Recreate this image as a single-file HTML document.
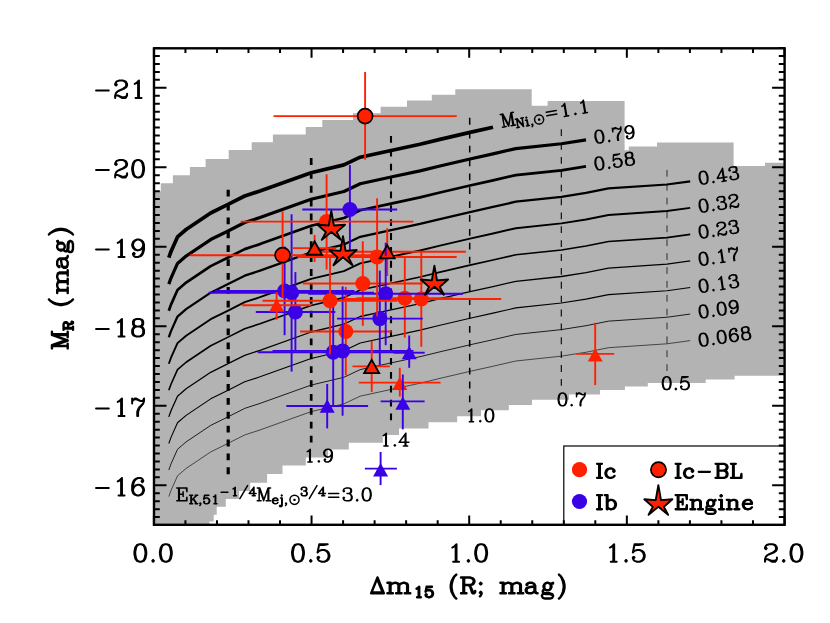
<!DOCTYPE html>
<html><head><meta charset="utf-8"><title>chart</title>
<style>html,body{margin:0;padding:0;background:#fff;font-family:"Liberation Sans",sans-serif}svg{display:block}</style>
</head><body>
<svg width="830" height="623" viewBox="0 0 830 623">
<rect width="830" height="623" fill="#fff"/>
<polygon points="154,525 154,191.2 155,191.2 160.8,191.2 160.8,183.3 172.9,183.3 172.9,175.2 189.9,175.2 189.9,167 205.6,167 205.6,158.9 228.7,158.9 228.7,150.1 251.7,150.1 251.7,142.2 272.9,142.2 272.9,134.6 305.7,134.6 305.7,126.9 322.3,126.9 322.3,120 353,120 353,113.2 380.6,113.2 380.6,106.8 407,106.8 407,100.5 431.8,100.5 431.8,94.8 455.3,94.8 455.3,89.2 531.7,89.2 531.7,105.8 547.6,105.8 547.6,100.9 624.6,100.9 624.6,150.2 628.8,150.2 628.8,146.5 657,146.5 657,142.5 733.6,142.5 733.6,165.9 765,165.9 765,162.8 784.6,162.8 784.6,375.8 734.6,375.8 734.6,379.5 705.7,379.5 705.7,383 647.8,383 647.8,386.6 624.9,386.6 624.9,390 600,390 600,394.6 569,394.6 569,399.8 532,399.8 532,405 508.8,405 508.8,410.3 481,410.3 481,416.2 457.2,416.2 457.2,422.2 428.5,422.2 428.5,428.6 399,428.6 399,435.1 382.8,435.1 382.8,442.8 348.8,442.8 348.8,449.6 328,449.6 328,457.6 305.8,457.6 305.8,465.6 282.5,465.6 282.5,474 267.1,474 267.1,482.7 250.2,482.7 250.2,491 239.1,491 239.1,498.9 225.8,498.9 225.8,506.8 216.7,506.8 216.7,514.7 213.7,514.7 213.7,521.6 209.4,521.6 209.4,525 154,525" fill="#b3b3b3"/>
<polyline points="168.8,257.6 171,251.5 177.5,236.9 186.1,229.5 210.7,213 228.1,204.4 244.7,196 260,191 311.1,172.7 343.9,164.9 360.2,157.2 391.1,150.5 420,144.3 440,139.4 470,132.4 493,127.3" fill="none" stroke="#000" stroke-width="3.7" stroke-linejoin="round"/>
<polyline points="168.8,284.15 171,278.05 177.5,263.45 186.1,256.05 210.7,239.55 228.1,230.95 244.7,222.55 260,217.55 311.1,199.25 343.9,191.45 360.2,183.75 391.1,177.05 420,170.85 440,165.95 470,158.95 493,153.85 515.8,148.6 561.4,143.75 586,139.85" fill="none" stroke="#000" stroke-width="3.2" stroke-linejoin="round"/>
<polyline points="168.8,310.7 171,304.6 177.5,290 186.1,282.6 210.7,266.1 228.1,257.5 244.7,249.1 260,244.1 311.1,225.8 343.9,218 360.2,210.3 391.1,203.6 420,197.4 440,192.5 470,185.5 493,180.4 515.8,175.15 561.4,170.3 586,166.4" fill="none" stroke="#000" stroke-width="2.7" stroke-linejoin="round"/>
<polyline points="168.8,337.25 171,331.15 177.5,316.55 186.1,309.15 210.7,292.65 228.1,284.05 244.7,275.65 260,270.65 311.1,252.35 343.9,244.55 360.2,236.85 391.1,230.15 420,223.95 440,219.05 470,212.05 493,206.95 515.8,201.7 561.4,196.85 586,192.95 608.5,188.4 666.9,184.5 690.2,181.3" fill="none" stroke="#000" stroke-width="2.25" stroke-linejoin="round"/>
<polyline points="168.8,363.8 171,357.7 177.5,343.1 186.1,335.7 210.7,319.2 228.1,310.6 244.7,302.2 260,297.2 311.1,278.9 343.9,271.1 360.2,263.4 391.1,256.7 420,250.5 440,245.6 470,238.6 493,233.5 515.8,228.25 561.4,223.4 586,219.5 608.5,214.95 666.9,211.05 690.2,207.85" fill="none" stroke="#000" stroke-width="1.9" stroke-linejoin="round"/>
<polyline points="168.8,390.35 171,384.25 177.5,369.65 186.1,362.25 210.7,345.75 228.1,337.15 244.7,328.75 260,323.75 311.1,305.45 343.9,297.65 360.2,289.95 391.1,283.25 420,277.05 440,272.15 470,265.15 493,260.05 515.8,254.8 561.4,249.95 586,246.05 608.5,241.5 666.9,237.6 690.2,234.4" fill="none" stroke="#000" stroke-width="1.6" stroke-linejoin="round"/>
<polyline points="168.8,416.9 171,410.8 177.5,396.2 186.1,388.8 210.7,372.3 228.1,363.7 244.7,355.3 260,350.3 311.1,332 343.9,324.2 360.2,316.5 391.1,309.8 420,303.6 440,298.7 470,291.7 493,286.6 515.8,281.35 561.4,276.5 586,272.6 608.5,268.05 666.9,264.15 690.2,260.95" fill="none" stroke="#000" stroke-width="1.3" stroke-linejoin="round"/>
<polyline points="168.8,443.45 171,437.35 177.5,422.75 186.1,415.35 210.7,398.85 228.1,390.25 244.7,381.85 260,376.85 311.1,358.55 343.9,350.75 360.2,343.05 391.1,336.35 420,330.15 440,325.25 470,318.25 493,313.15 515.8,307.9 561.4,303.05 586,299.15 608.5,294.6 666.9,290.7 690.2,287.5" fill="none" stroke="#000" stroke-width="1.1" stroke-linejoin="round"/>
<polyline points="168.8,470 171,463.9 177.5,449.3 186.1,441.9 210.7,425.4 228.1,416.8 244.7,408.4 260,403.4 311.1,385.1 343.9,377.3 360.2,369.6 391.1,362.9 420,356.7 440,351.8 470,344.8 493,339.7 515.8,334.45 561.4,329.6 586,325.7 608.5,321.15 666.9,317.25 690.2,314.05" fill="none" stroke="#000" stroke-width="0.85" stroke-linejoin="round"/>
<polyline points="168.8,496.55 171,490.45 177.5,475.85 186.1,468.45 210.7,451.95 228.1,443.35 244.7,434.95 260,429.95 311.1,411.65 343.9,403.85 360.2,396.15 391.1,389.45 420,383.25 440,378.35 470,371.35 493,366.25 515.8,361 561.4,356.15 586,352.25 608.5,347.7 666.9,343.8 690.2,340.6" fill="none" stroke="#000" stroke-width="0.62" stroke-linejoin="round"/>
<line x1="228.2" y1="189.75" x2="228.2" y2="474.3" stroke="#000" stroke-width="3.2" stroke-dasharray="6.8 7.08"/>
<line x1="311.2" y1="158.08" x2="311.2" y2="442.63" stroke="#000" stroke-width="2.7" stroke-dasharray="6.8 7.08"/>
<line x1="391" y1="135.92" x2="391" y2="420.47" stroke="#000" stroke-width="2.1" stroke-dasharray="6.8 7.08"/>
<line x1="469.7" y1="117.87" x2="469.7" y2="402.42" stroke="#000" stroke-width="1.5" stroke-dasharray="6.8 7.08"/>
<line x1="561.3" y1="129.16" x2="561.3" y2="387.16" stroke="#000" stroke-width="1.1" stroke-dasharray="6.8 7.08"/>
<line x1="667" y1="169.89" x2="667" y2="374.79" stroke="#000" stroke-width="0.75" stroke-dasharray="6.8 7.08"/>
<path transform="translate(303.6 462)" d="M3.66 -10.37L4.88 -10.98L6.71 -12.81L6.71 0M6.1 -12.2L6.1 0M4.27 0L8.54 0M15.25 -1.22L14.64 -0.61L15.25 0L15.86 -0.61L15.25 -1.22M28.06 -8.54L27.45 -6.71L26.23 -5.49L24.4 -4.88L23.79 -4.88L21.96 -5.49L20.74 -6.71L20.13 -8.54L20.13 -9.15L20.74 -10.98L21.96 -12.2L23.79 -12.81L25.01 -12.81L26.84 -12.2L28.06 -10.98L28.67 -9.15L28.67 -5.49L28.06 -3.05L27.45 -1.83L26.23 -0.61L24.4 0L22.57 0L21.35 -0.61L20.74 -1.83L20.74 -2.44L21.35 -3.05L21.96 -2.44L21.35 -1.83M23.79 -4.88L22.57 -5.49L21.35 -6.71L20.74 -8.54L20.74 -9.15L21.35 -10.98L22.57 -12.2L23.79 -12.81M25.01 -12.81L26.23 -12.2L27.45 -10.98L28.06 -9.15L28.06 -5.49L27.45 -3.05L26.84 -1.83L25.62 -0.61L24.4 0" fill="none" stroke="#000" stroke-width="1.5" stroke-linecap="round" stroke-linejoin="round"/>
<path transform="translate(379.6 446)" d="M3.66 -10.37L4.88 -10.98L6.71 -12.81L6.71 0M6.1 -12.2L6.1 0M4.27 0L8.54 0M15.25 -1.22L14.64 -0.61L15.25 0L15.86 -0.61L15.25 -1.22M25.62 -11.59L25.62 0M26.23 -12.81L26.23 0M26.23 -12.81L19.52 -3.66L29.28 -3.66M23.79 0L28.06 0" fill="none" stroke="#000" stroke-width="1.5" stroke-linecap="round" stroke-linejoin="round"/>
<path transform="translate(465 421.8)" d="M3.66 -10.37L4.88 -10.98L6.71 -12.81L6.71 0M6.1 -12.2L6.1 0M4.27 0L8.54 0M15.25 -1.22L14.64 -0.61L15.25 0L15.86 -0.61L15.25 -1.22M23.79 -12.81L21.96 -12.2L20.74 -10.37L20.13 -7.32L20.13 -5.49L20.74 -2.44L21.96 -0.61L23.79 0L25.01 0L26.84 -0.61L28.06 -2.44L28.67 -5.49L28.67 -7.32L28.06 -10.37L26.84 -12.2L25.01 -12.81L23.79 -12.81M23.79 -12.81L22.57 -12.2L21.96 -11.59L21.35 -10.37L20.74 -7.32L20.74 -5.49L21.35 -2.44L21.96 -1.22L22.57 -0.61L23.79 0M25.01 0L26.23 -0.61L26.84 -1.22L27.45 -2.44L28.06 -5.49L28.06 -7.32L27.45 -10.37L26.84 -11.59L26.23 -12.2L25.01 -12.81" fill="none" stroke="#000" stroke-width="1.5" stroke-linecap="round" stroke-linejoin="round"/>
<path transform="translate(556.4 405.8)" d="M5.49 -12.81L3.66 -12.2L2.44 -10.37L1.83 -7.32L1.83 -5.49L2.44 -2.44L3.66 -0.61L5.49 0L6.71 0L8.54 -0.61L9.76 -2.44L10.37 -5.49L10.37 -7.32L9.76 -10.37L8.54 -12.2L6.71 -12.81L5.49 -12.81M5.49 -12.81L4.27 -12.2L3.66 -11.59L3.05 -10.37L2.44 -7.32L2.44 -5.49L3.05 -2.44L3.66 -1.22L4.27 -0.61L5.49 0M6.71 0L7.93 -0.61L8.54 -1.22L9.15 -2.44L9.76 -5.49L9.76 -7.32L9.15 -10.37L8.54 -11.59L7.93 -12.2L6.71 -12.81M15.25 -1.22L14.64 -0.61L15.25 0L15.86 -0.61L15.25 -1.22M20.13 -12.81L20.13 -9.15M20.13 -10.37L20.74 -11.59L21.96 -12.81L23.18 -12.81L26.23 -10.98L27.45 -10.98L28.06 -11.59L28.67 -12.81M20.74 -11.59L21.96 -12.2L23.18 -12.2L26.23 -10.98M28.67 -12.81L28.67 -10.98L28.06 -9.15L25.62 -6.1L25.01 -4.88L24.4 -3.05L24.4 0M28.06 -9.15L25.01 -6.1L24.4 -4.88L23.79 -3.05L23.79 0" fill="none" stroke="#000" stroke-width="1.5" stroke-linecap="round" stroke-linejoin="round"/>
<path transform="translate(660.6 389.6)" d="M5.49 -12.81L3.66 -12.2L2.44 -10.37L1.83 -7.32L1.83 -5.49L2.44 -2.44L3.66 -0.61L5.49 0L6.71 0L8.54 -0.61L9.76 -2.44L10.37 -5.49L10.37 -7.32L9.76 -10.37L8.54 -12.2L6.71 -12.81L5.49 -12.81M5.49 -12.81L4.27 -12.2L3.66 -11.59L3.05 -10.37L2.44 -7.32L2.44 -5.49L3.05 -2.44L3.66 -1.22L4.27 -0.61L5.49 0M6.71 0L7.93 -0.61L8.54 -1.22L9.15 -2.44L9.76 -5.49L9.76 -7.32L9.15 -10.37L8.54 -11.59L7.93 -12.2L6.71 -12.81M15.25 -1.22L14.64 -0.61L15.25 0L15.86 -0.61L15.25 -1.22M21.35 -12.81L20.13 -6.71M20.13 -6.71L21.35 -7.93L23.18 -8.54L25.01 -8.54L26.84 -7.93L28.06 -6.71L28.67 -4.88L28.67 -3.66L28.06 -1.83L26.84 -0.61L25.01 0L23.18 0L21.35 -0.61L20.74 -1.22L20.13 -2.44L20.13 -3.05L20.74 -3.66L21.35 -3.05L20.74 -2.44M25.01 -8.54L26.23 -7.93L27.45 -6.71L28.06 -4.88L28.06 -3.66L27.45 -1.83L26.23 -0.61L25.01 0M21.35 -12.81L27.45 -12.81M21.35 -12.2L24.4 -12.2L27.45 -12.81" fill="none" stroke="#000" stroke-width="1.5" stroke-linecap="round" stroke-linejoin="round"/>
<path transform="translate(594.3 143.85) rotate(-8.5)" d="M5.49 -12.81L3.66 -12.2L2.44 -10.37L1.83 -7.32L1.83 -5.49L2.44 -2.44L3.66 -0.61L5.49 0L6.71 0L8.54 -0.61L9.76 -2.44L10.37 -5.49L10.37 -7.32L9.76 -10.37L8.54 -12.2L6.71 -12.81L5.49 -12.81M5.49 -12.81L4.27 -12.2L3.66 -11.59L3.05 -10.37L2.44 -7.32L2.44 -5.49L3.05 -2.44L3.66 -1.22L4.27 -0.61L5.49 0M6.71 0L7.93 -0.61L8.54 -1.22L9.15 -2.44L9.76 -5.49L9.76 -7.32L9.15 -10.37L8.54 -11.59L7.93 -12.2L6.71 -12.81M15.25 -1.22L14.64 -0.61L15.25 0L15.86 -0.61L15.25 -1.22M20.13 -12.81L20.13 -9.15M20.13 -10.37L20.74 -11.59L21.96 -12.81L23.18 -12.81L26.23 -10.98L27.45 -10.98L28.06 -11.59L28.67 -12.81M20.74 -11.59L21.96 -12.2L23.18 -12.2L26.23 -10.98M28.67 -12.81L28.67 -10.98L28.06 -9.15L25.62 -6.1L25.01 -4.88L24.4 -3.05L24.4 0M28.06 -9.15L25.01 -6.1L24.4 -4.88L23.79 -3.05L23.79 0M40.26 -8.54L39.65 -6.71L38.43 -5.49L36.6 -4.88L35.99 -4.88L34.16 -5.49L32.94 -6.71L32.33 -8.54L32.33 -9.15L32.94 -10.98L34.16 -12.2L35.99 -12.81L37.21 -12.81L39.04 -12.2L40.26 -10.98L40.87 -9.15L40.87 -5.49L40.26 -3.05L39.65 -1.83L38.43 -0.61L36.6 0L34.77 0L33.55 -0.61L32.94 -1.83L32.94 -2.44L33.55 -3.05L34.16 -2.44L33.55 -1.83M35.99 -4.88L34.77 -5.49L33.55 -6.71L32.94 -8.54L32.94 -9.15L33.55 -10.98L34.77 -12.2L35.99 -12.81M37.21 -12.81L38.43 -12.2L39.65 -10.98L40.26 -9.15L40.26 -5.49L39.65 -3.05L39.04 -1.83L37.82 -0.61L36.6 0" fill="none" stroke="#000" stroke-width="1.5" stroke-linecap="round" stroke-linejoin="round"/>
<path transform="translate(594.3 170.6) rotate(-8.5)" d="M5.49 -12.81L3.66 -12.2L2.44 -10.37L1.83 -7.32L1.83 -5.49L2.44 -2.44L3.66 -0.61L5.49 0L6.71 0L8.54 -0.61L9.76 -2.44L10.37 -5.49L10.37 -7.32L9.76 -10.37L8.54 -12.2L6.71 -12.81L5.49 -12.81M5.49 -12.81L4.27 -12.2L3.66 -11.59L3.05 -10.37L2.44 -7.32L2.44 -5.49L3.05 -2.44L3.66 -1.22L4.27 -0.61L5.49 0M6.71 0L7.93 -0.61L8.54 -1.22L9.15 -2.44L9.76 -5.49L9.76 -7.32L9.15 -10.37L8.54 -11.59L7.93 -12.2L6.71 -12.81M15.25 -1.22L14.64 -0.61L15.25 0L15.86 -0.61L15.25 -1.22M21.35 -12.81L20.13 -6.71M20.13 -6.71L21.35 -7.93L23.18 -8.54L25.01 -8.54L26.84 -7.93L28.06 -6.71L28.67 -4.88L28.67 -3.66L28.06 -1.83L26.84 -0.61L25.01 0L23.18 0L21.35 -0.61L20.74 -1.22L20.13 -2.44L20.13 -3.05L20.74 -3.66L21.35 -3.05L20.74 -2.44M25.01 -8.54L26.23 -7.93L27.45 -6.71L28.06 -4.88L28.06 -3.66L27.45 -1.83L26.23 -0.61L25.01 0M21.35 -12.81L27.45 -12.81M21.35 -12.2L24.4 -12.2L27.45 -12.81M35.38 -12.81L33.55 -12.2L32.94 -10.98L32.94 -9.15L33.55 -7.93L35.38 -7.32L37.82 -7.32L39.65 -7.93L40.26 -9.15L40.26 -10.98L39.65 -12.2L37.82 -12.81L35.38 -12.81M35.38 -12.81L34.16 -12.2L33.55 -10.98L33.55 -9.15L34.16 -7.93L35.38 -7.32M37.82 -7.32L39.04 -7.93L39.65 -9.15L39.65 -10.98L39.04 -12.2L37.82 -12.81M35.38 -7.32L33.55 -6.71L32.94 -6.1L32.33 -4.88L32.33 -2.44L32.94 -1.22L33.55 -0.61L35.38 0L37.82 0L39.65 -0.61L40.26 -1.22L40.87 -2.44L40.87 -4.88L40.26 -6.1L39.65 -6.71L37.82 -7.32M35.38 -7.32L34.16 -6.71L33.55 -6.1L32.94 -4.88L32.94 -2.44L33.55 -1.22L34.16 -0.61L35.38 0M37.82 0L39.04 -0.61L39.65 -1.22L40.26 -2.44L40.26 -4.88L39.65 -6.1L39.04 -6.71L37.82 -7.32" fill="none" stroke="#000" stroke-width="1.5" stroke-linecap="round" stroke-linejoin="round"/>
<path transform="translate(698.5 184.9) rotate(-8.5)" d="M5.49 -12.81L3.66 -12.2L2.44 -10.37L1.83 -7.32L1.83 -5.49L2.44 -2.44L3.66 -0.61L5.49 0L6.71 0L8.54 -0.61L9.76 -2.44L10.37 -5.49L10.37 -7.32L9.76 -10.37L8.54 -12.2L6.71 -12.81L5.49 -12.81M5.49 -12.81L4.27 -12.2L3.66 -11.59L3.05 -10.37L2.44 -7.32L2.44 -5.49L3.05 -2.44L3.66 -1.22L4.27 -0.61L5.49 0M6.71 0L7.93 -0.61L8.54 -1.22L9.15 -2.44L9.76 -5.49L9.76 -7.32L9.15 -10.37L8.54 -11.59L7.93 -12.2L6.71 -12.81M15.25 -1.22L14.64 -0.61L15.25 0L15.86 -0.61L15.25 -1.22M25.62 -11.59L25.62 0M26.23 -12.81L26.23 0M26.23 -12.81L19.52 -3.66L29.28 -3.66M23.79 0L28.06 0M32.94 -10.37L33.55 -9.76L32.94 -9.15L32.33 -9.76L32.33 -10.37L32.94 -11.59L33.55 -12.2L35.38 -12.81L37.82 -12.81L39.65 -12.2L40.26 -10.98L40.26 -9.15L39.65 -7.93L37.82 -7.32L35.99 -7.32M37.82 -12.81L39.04 -12.2L39.65 -10.98L39.65 -9.15L39.04 -7.93L37.82 -7.32M37.82 -7.32L39.04 -6.71L40.26 -5.49L40.87 -4.27L40.87 -2.44L40.26 -1.22L39.65 -0.61L37.82 0L35.38 0L33.55 -0.61L32.94 -1.22L32.33 -2.44L32.33 -3.05L32.94 -3.66L33.55 -3.05L32.94 -2.44M39.65 -6.1L40.26 -4.27L40.26 -2.44L39.65 -1.22L39.04 -0.61L37.82 0" fill="none" stroke="#000" stroke-width="1.5" stroke-linecap="round" stroke-linejoin="round"/>
<path transform="translate(698.5 212.85) rotate(-8.5)" d="M5.49 -12.81L3.66 -12.2L2.44 -10.37L1.83 -7.32L1.83 -5.49L2.44 -2.44L3.66 -0.61L5.49 0L6.71 0L8.54 -0.61L9.76 -2.44L10.37 -5.49L10.37 -7.32L9.76 -10.37L8.54 -12.2L6.71 -12.81L5.49 -12.81M5.49 -12.81L4.27 -12.2L3.66 -11.59L3.05 -10.37L2.44 -7.32L2.44 -5.49L3.05 -2.44L3.66 -1.22L4.27 -0.61L5.49 0M6.71 0L7.93 -0.61L8.54 -1.22L9.15 -2.44L9.76 -5.49L9.76 -7.32L9.15 -10.37L8.54 -11.59L7.93 -12.2L6.71 -12.81M15.25 -1.22L14.64 -0.61L15.25 0L15.86 -0.61L15.25 -1.22M20.74 -10.37L21.35 -9.76L20.74 -9.15L20.13 -9.76L20.13 -10.37L20.74 -11.59L21.35 -12.2L23.18 -12.81L25.62 -12.81L27.45 -12.2L28.06 -10.98L28.06 -9.15L27.45 -7.93L25.62 -7.32L23.79 -7.32M25.62 -12.81L26.84 -12.2L27.45 -10.98L27.45 -9.15L26.84 -7.93L25.62 -7.32M25.62 -7.32L26.84 -6.71L28.06 -5.49L28.67 -4.27L28.67 -2.44L28.06 -1.22L27.45 -0.61L25.62 0L23.18 0L21.35 -0.61L20.74 -1.22L20.13 -2.44L20.13 -3.05L20.74 -3.66L21.35 -3.05L20.74 -2.44M27.45 -6.1L28.06 -4.27L28.06 -2.44L27.45 -1.22L26.84 -0.61L25.62 0M32.94 -10.37L33.55 -9.76L32.94 -9.15L32.33 -9.76L32.33 -10.37L32.94 -11.59L33.55 -12.2L35.38 -12.81L37.82 -12.81L39.65 -12.2L40.26 -11.59L40.87 -10.37L40.87 -9.15L40.26 -7.93L38.43 -6.71L35.38 -5.49L34.16 -4.88L32.94 -3.66L32.33 -1.83L32.33 0M37.82 -12.81L39.04 -12.2L39.65 -11.59L40.26 -10.37L40.26 -9.15L39.65 -7.93L37.82 -6.71L35.38 -5.49M32.33 -1.22L32.94 -1.83L34.16 -1.83L37.21 -0.61L39.04 -0.61L40.26 -1.22L40.87 -1.83M34.16 -1.83L37.21 0L39.65 0L40.26 -0.61L40.87 -1.83L40.87 -3.05" fill="none" stroke="#000" stroke-width="1.5" stroke-linecap="round" stroke-linejoin="round"/>
<path transform="translate(698.5 238.7) rotate(-8.5)" d="M5.49 -12.81L3.66 -12.2L2.44 -10.37L1.83 -7.32L1.83 -5.49L2.44 -2.44L3.66 -0.61L5.49 0L6.71 0L8.54 -0.61L9.76 -2.44L10.37 -5.49L10.37 -7.32L9.76 -10.37L8.54 -12.2L6.71 -12.81L5.49 -12.81M5.49 -12.81L4.27 -12.2L3.66 -11.59L3.05 -10.37L2.44 -7.32L2.44 -5.49L3.05 -2.44L3.66 -1.22L4.27 -0.61L5.49 0M6.71 0L7.93 -0.61L8.54 -1.22L9.15 -2.44L9.76 -5.49L9.76 -7.32L9.15 -10.37L8.54 -11.59L7.93 -12.2L6.71 -12.81M15.25 -1.22L14.64 -0.61L15.25 0L15.86 -0.61L15.25 -1.22M20.74 -10.37L21.35 -9.76L20.74 -9.15L20.13 -9.76L20.13 -10.37L20.74 -11.59L21.35 -12.2L23.18 -12.81L25.62 -12.81L27.45 -12.2L28.06 -11.59L28.67 -10.37L28.67 -9.15L28.06 -7.93L26.23 -6.71L23.18 -5.49L21.96 -4.88L20.74 -3.66L20.13 -1.83L20.13 0M25.62 -12.81L26.84 -12.2L27.45 -11.59L28.06 -10.37L28.06 -9.15L27.45 -7.93L25.62 -6.71L23.18 -5.49M20.13 -1.22L20.74 -1.83L21.96 -1.83L25.01 -0.61L26.84 -0.61L28.06 -1.22L28.67 -1.83M21.96 -1.83L25.01 0L27.45 0L28.06 -0.61L28.67 -1.83L28.67 -3.05M32.94 -10.37L33.55 -9.76L32.94 -9.15L32.33 -9.76L32.33 -10.37L32.94 -11.59L33.55 -12.2L35.38 -12.81L37.82 -12.81L39.65 -12.2L40.26 -10.98L40.26 -9.15L39.65 -7.93L37.82 -7.32L35.99 -7.32M37.82 -12.81L39.04 -12.2L39.65 -10.98L39.65 -9.15L39.04 -7.93L37.82 -7.32M37.82 -7.32L39.04 -6.71L40.26 -5.49L40.87 -4.27L40.87 -2.44L40.26 -1.22L39.65 -0.61L37.82 0L35.38 0L33.55 -0.61L32.94 -1.22L32.33 -2.44L32.33 -3.05L32.94 -3.66L33.55 -3.05L32.94 -2.44M39.65 -6.1L40.26 -4.27L40.26 -2.44L39.65 -1.22L39.04 -0.61L37.82 0" fill="none" stroke="#000" stroke-width="1.5" stroke-linecap="round" stroke-linejoin="round"/>
<path transform="translate(698.5 265.95) rotate(-8.5)" d="M5.49 -12.81L3.66 -12.2L2.44 -10.37L1.83 -7.32L1.83 -5.49L2.44 -2.44L3.66 -0.61L5.49 0L6.71 0L8.54 -0.61L9.76 -2.44L10.37 -5.49L10.37 -7.32L9.76 -10.37L8.54 -12.2L6.71 -12.81L5.49 -12.81M5.49 -12.81L4.27 -12.2L3.66 -11.59L3.05 -10.37L2.44 -7.32L2.44 -5.49L3.05 -2.44L3.66 -1.22L4.27 -0.61L5.49 0M6.71 0L7.93 -0.61L8.54 -1.22L9.15 -2.44L9.76 -5.49L9.76 -7.32L9.15 -10.37L8.54 -11.59L7.93 -12.2L6.71 -12.81M15.25 -1.22L14.64 -0.61L15.25 0L15.86 -0.61L15.25 -1.22M21.96 -10.37L23.18 -10.98L25.01 -12.81L25.01 0M24.4 -12.2L24.4 0M22.57 0L26.84 0M32.33 -12.81L32.33 -9.15M32.33 -10.37L32.94 -11.59L34.16 -12.81L35.38 -12.81L38.43 -10.98L39.65 -10.98L40.26 -11.59L40.87 -12.81M32.94 -11.59L34.16 -12.2L35.38 -12.2L38.43 -10.98M40.87 -12.81L40.87 -10.98L40.26 -9.15L37.82 -6.1L37.21 -4.88L36.6 -3.05L36.6 0M40.26 -9.15L37.21 -6.1L36.6 -4.88L35.99 -3.05L35.99 0" fill="none" stroke="#000" stroke-width="1.5" stroke-linecap="round" stroke-linejoin="round"/>
<path transform="translate(698.5 293) rotate(-8.5)" d="M5.49 -12.81L3.66 -12.2L2.44 -10.37L1.83 -7.32L1.83 -5.49L2.44 -2.44L3.66 -0.61L5.49 0L6.71 0L8.54 -0.61L9.76 -2.44L10.37 -5.49L10.37 -7.32L9.76 -10.37L8.54 -12.2L6.71 -12.81L5.49 -12.81M5.49 -12.81L4.27 -12.2L3.66 -11.59L3.05 -10.37L2.44 -7.32L2.44 -5.49L3.05 -2.44L3.66 -1.22L4.27 -0.61L5.49 0M6.71 0L7.93 -0.61L8.54 -1.22L9.15 -2.44L9.76 -5.49L9.76 -7.32L9.15 -10.37L8.54 -11.59L7.93 -12.2L6.71 -12.81M15.25 -1.22L14.64 -0.61L15.25 0L15.86 -0.61L15.25 -1.22M21.96 -10.37L23.18 -10.98L25.01 -12.81L25.01 0M24.4 -12.2L24.4 0M22.57 0L26.84 0M32.94 -10.37L33.55 -9.76L32.94 -9.15L32.33 -9.76L32.33 -10.37L32.94 -11.59L33.55 -12.2L35.38 -12.81L37.82 -12.81L39.65 -12.2L40.26 -10.98L40.26 -9.15L39.65 -7.93L37.82 -7.32L35.99 -7.32M37.82 -12.81L39.04 -12.2L39.65 -10.98L39.65 -9.15L39.04 -7.93L37.82 -7.32M37.82 -7.32L39.04 -6.71L40.26 -5.49L40.87 -4.27L40.87 -2.44L40.26 -1.22L39.65 -0.61L37.82 0L35.38 0L33.55 -0.61L32.94 -1.22L32.33 -2.44L32.33 -3.05L32.94 -3.66L33.55 -3.05L32.94 -2.44M39.65 -6.1L40.26 -4.27L40.26 -2.44L39.65 -1.22L39.04 -0.61L37.82 0" fill="none" stroke="#000" stroke-width="1.5" stroke-linecap="round" stroke-linejoin="round"/>
<path transform="translate(698.5 318.65) rotate(-8.5)" d="M5.49 -12.81L3.66 -12.2L2.44 -10.37L1.83 -7.32L1.83 -5.49L2.44 -2.44L3.66 -0.61L5.49 0L6.71 0L8.54 -0.61L9.76 -2.44L10.37 -5.49L10.37 -7.32L9.76 -10.37L8.54 -12.2L6.71 -12.81L5.49 -12.81M5.49 -12.81L4.27 -12.2L3.66 -11.59L3.05 -10.37L2.44 -7.32L2.44 -5.49L3.05 -2.44L3.66 -1.22L4.27 -0.61L5.49 0M6.71 0L7.93 -0.61L8.54 -1.22L9.15 -2.44L9.76 -5.49L9.76 -7.32L9.15 -10.37L8.54 -11.59L7.93 -12.2L6.71 -12.81M15.25 -1.22L14.64 -0.61L15.25 0L15.86 -0.61L15.25 -1.22M23.79 -12.81L21.96 -12.2L20.74 -10.37L20.13 -7.32L20.13 -5.49L20.74 -2.44L21.96 -0.61L23.79 0L25.01 0L26.84 -0.61L28.06 -2.44L28.67 -5.49L28.67 -7.32L28.06 -10.37L26.84 -12.2L25.01 -12.81L23.79 -12.81M23.79 -12.81L22.57 -12.2L21.96 -11.59L21.35 -10.37L20.74 -7.32L20.74 -5.49L21.35 -2.44L21.96 -1.22L22.57 -0.61L23.79 0M25.01 0L26.23 -0.61L26.84 -1.22L27.45 -2.44L28.06 -5.49L28.06 -7.32L27.45 -10.37L26.84 -11.59L26.23 -12.2L25.01 -12.81M40.26 -8.54L39.65 -6.71L38.43 -5.49L36.6 -4.88L35.99 -4.88L34.16 -5.49L32.94 -6.71L32.33 -8.54L32.33 -9.15L32.94 -10.98L34.16 -12.2L35.99 -12.81L37.21 -12.81L39.04 -12.2L40.26 -10.98L40.87 -9.15L40.87 -5.49L40.26 -3.05L39.65 -1.83L38.43 -0.61L36.6 0L34.77 0L33.55 -0.61L32.94 -1.83L32.94 -2.44L33.55 -3.05L34.16 -2.44L33.55 -1.83M35.99 -4.88L34.77 -5.49L33.55 -6.71L32.94 -8.54L32.94 -9.15L33.55 -10.98L34.77 -12.2L35.99 -12.81M37.21 -12.81L38.43 -12.2L39.65 -10.98L40.26 -9.15L40.26 -5.49L39.65 -3.05L39.04 -1.83L37.82 -0.61L36.6 0" fill="none" stroke="#000" stroke-width="1.5" stroke-linecap="round" stroke-linejoin="round"/>
<path transform="translate(698.5 346.9) rotate(-8.5)" d="M5.49 -12.81L3.66 -12.2L2.44 -10.37L1.83 -7.32L1.83 -5.49L2.44 -2.44L3.66 -0.61L5.49 0L6.71 0L8.54 -0.61L9.76 -2.44L10.37 -5.49L10.37 -7.32L9.76 -10.37L8.54 -12.2L6.71 -12.81L5.49 -12.81M5.49 -12.81L4.27 -12.2L3.66 -11.59L3.05 -10.37L2.44 -7.32L2.44 -5.49L3.05 -2.44L3.66 -1.22L4.27 -0.61L5.49 0M6.71 0L7.93 -0.61L8.54 -1.22L9.15 -2.44L9.76 -5.49L9.76 -7.32L9.15 -10.37L8.54 -11.59L7.93 -12.2L6.71 -12.81M15.25 -1.22L14.64 -0.61L15.25 0L15.86 -0.61L15.25 -1.22M23.79 -12.81L21.96 -12.2L20.74 -10.37L20.13 -7.32L20.13 -5.49L20.74 -2.44L21.96 -0.61L23.79 0L25.01 0L26.84 -0.61L28.06 -2.44L28.67 -5.49L28.67 -7.32L28.06 -10.37L26.84 -12.2L25.01 -12.81L23.79 -12.81M23.79 -12.81L22.57 -12.2L21.96 -11.59L21.35 -10.37L20.74 -7.32L20.74 -5.49L21.35 -2.44L21.96 -1.22L22.57 -0.61L23.79 0M25.01 0L26.23 -0.61L26.84 -1.22L27.45 -2.44L28.06 -5.49L28.06 -7.32L27.45 -10.37L26.84 -11.59L26.23 -12.2L25.01 -12.81M39.65 -10.98L39.04 -10.37L39.65 -9.76L40.26 -10.37L40.26 -10.98L39.65 -12.2L38.43 -12.81L36.6 -12.81L34.77 -12.2L33.55 -10.98L32.94 -9.76L32.33 -7.32L32.33 -3.66L32.94 -1.83L34.16 -0.61L35.99 0L37.21 0L39.04 -0.61L40.26 -1.83L40.87 -3.66L40.87 -4.27L40.26 -6.1L39.04 -7.32L37.21 -7.93L36.6 -7.93L34.77 -7.32L33.55 -6.1L32.94 -4.27M36.6 -12.81L35.38 -12.2L34.16 -10.98L33.55 -9.76L32.94 -7.32L32.94 -3.66L33.55 -1.83L34.77 -0.61L35.99 0M37.21 0L38.43 -0.61L39.65 -1.83L40.26 -3.66L40.26 -4.27L39.65 -6.1L38.43 -7.32L37.21 -7.93M47.58 -12.81L45.75 -12.2L45.14 -10.98L45.14 -9.15L45.75 -7.93L47.58 -7.32L50.02 -7.32L51.85 -7.93L52.46 -9.15L52.46 -10.98L51.85 -12.2L50.02 -12.81L47.58 -12.81M47.58 -12.81L46.36 -12.2L45.75 -10.98L45.75 -9.15L46.36 -7.93L47.58 -7.32M50.02 -7.32L51.24 -7.93L51.85 -9.15L51.85 -10.98L51.24 -12.2L50.02 -12.81M47.58 -7.32L45.75 -6.71L45.14 -6.1L44.53 -4.88L44.53 -2.44L45.14 -1.22L45.75 -0.61L47.58 0L50.02 0L51.85 -0.61L52.46 -1.22L53.07 -2.44L53.07 -4.88L52.46 -6.1L51.85 -6.71L50.02 -7.32M47.58 -7.32L46.36 -6.71L45.75 -6.1L45.14 -4.88L45.14 -2.44L45.75 -1.22L46.36 -0.61L47.58 0M50.02 0L51.24 -0.61L51.85 -1.22L52.46 -2.44L52.46 -4.88L51.85 -6.1L51.24 -6.71L50.02 -7.32" fill="none" stroke="#000" stroke-width="1.5" stroke-linecap="round" stroke-linejoin="round"/>
<path transform="translate(501.2 127.4) rotate(-9.8)" d="M3.17 -12.81L3.17 0M3.81 -12.81L7.61 -1.83M3.17 -12.81L7.61 0M12.05 -12.81L7.61 0M12.05 -12.81L12.05 0M12.69 -12.81L12.69 0M1.27 -12.81L3.81 -12.81M12.05 -12.81L14.59 -12.81M1.27 0L5.08 0M10.15 0L14.59 0M16.63 -5.71L16.63 2.9M17.06 -5.71L22.18 2.08M17.06 -4.89L22.18 2.9M22.18 -5.71L22.18 2.9M15.35 -5.71L17.06 -5.71M20.9 -5.71L23.45 -5.71M15.35 2.9L17.91 2.9M26.44 -5.71L26.01 -5.3L26.44 -4.89L26.87 -5.3L26.44 -5.71M26.44 -2.84L26.44 2.9M26.87 -2.84L26.87 2.9M25.16 -2.84L26.87 -2.84M25.16 2.9L28.14 2.9M31.56 2.49L31.13 2.9L30.7 2.49L31.13 2.08L31.56 2.49L31.56 3.31L31.13 4.13L30.7 4.54M34.2 -1.3a4.5 4.5 0 1 0 9 0a4.5 4.5 0 1 0 -9 0M38.25 -1.75h0.9v0.9h-0.9zM46.94 -7.32L57.09 -7.32M46.94 -3.66L57.09 -3.66M63.41 -10.37L64.68 -10.98L66.58 -12.81L66.58 0M65.94 -12.2L65.94 0M64.04 0L68.48 0M75.46 -1.22L74.83 -0.61L75.46 0L76.09 -0.61L75.46 -1.22M82.44 -10.37L83.71 -10.98L85.61 -12.81L85.61 0M84.98 -12.2L84.98 0M83.07 0L87.51 0" fill="none" stroke="#000" stroke-width="1.5" stroke-linecap="round" stroke-linejoin="round"/>
<path transform="translate(0 500.85)" d="M178.67 -12.81L178.67 0M179.31 -12.81L179.31 0M183.11 -9.15L183.11 -4.27M176.77 -12.81L186.92 -12.81L186.92 -9.15L186.28 -12.81M179.31 -6.71L183.11 -6.71M176.77 0L186.92 0L186.92 -3.66L186.28 0M190.93 -5.71L190.93 2.9M191.36 -5.71L191.36 2.9M196.9 -5.71L191.36 -0.38M193.49 -2.02L196.9 2.9M193.06 -2.02L196.48 2.9M189.65 -5.71L192.64 -5.71M195.2 -5.71L197.75 -5.71M189.65 2.9L192.64 2.9M195.2 2.9L197.75 2.9M200.74 2.49L200.31 2.9L199.89 2.49L200.31 2.08L200.74 2.49L200.74 3.31L200.31 4.13L199.89 4.54M204.58 -5.71L203.72 -1.61M203.72 -1.61L204.58 -2.43L205.86 -2.84L207.14 -2.84L208.41 -2.43L209.27 -1.61L209.69 -0.38L209.69 0.44L209.27 1.67L208.41 2.49L207.14 2.9L205.86 2.9L204.58 2.49L204.15 2.08L203.72 1.26L203.72 0.85L204.15 0.44L204.58 0.85L204.15 1.26M207.14 -2.84L207.99 -2.43L208.84 -1.61L209.27 -0.38L209.27 0.44L208.84 1.67L207.99 2.49L207.14 2.9M204.58 -5.71L208.84 -5.71M204.58 -5.3L206.71 -5.3L208.84 -5.71M213.53 -4.07L214.38 -4.48L215.66 -5.71L215.66 2.9M215.24 -5.3L215.24 2.9M213.96 2.9L216.94 2.9M221.13 -8.69L227.95 -8.69M233.07 -11.97L233.92 -12.38L235.2 -13.61L235.2 -5M234.78 -13.2L234.78 -5M233.5 -5L236.48 -5M247.57 -15.25L239.89 -2.13M253.54 -12.79L253.54 -5M253.96 -13.61L253.96 -5M253.96 -13.61L249.27 -7.46L256.1 -7.46M252.26 -5L255.24 -5M259.17 -12.81L259.17 0M259.81 -12.81L263.61 -1.83M259.17 -12.81L263.61 0M268.05 -12.81L263.61 0M268.05 -12.81L268.05 0M268.69 -12.81L268.69 0M257.27 -12.81L259.81 -12.81M268.05 -12.81L270.59 -12.81M257.27 0L261.08 0M266.15 0L270.59 0M272.81 -0.38L277.92 -0.38L277.92 -1.2L277.5 -2.02L277.07 -2.43L276.22 -2.84L274.94 -2.84L273.66 -2.43L272.81 -1.61L272.38 -0.38L272.38 0.44L272.81 1.67L273.66 2.49L274.94 2.9L275.79 2.9L277.07 2.49L277.92 1.67M277.5 -0.38L277.5 -1.61L277.07 -2.43M274.94 -2.84L274.08 -2.43L273.23 -1.61L272.81 -0.38L272.81 0.44L273.23 1.67L274.08 2.49L274.94 2.9M281.76 -5.71L281.33 -5.3L281.76 -4.89L282.19 -5.3L281.76 -5.71M282.19 -2.84L282.19 4.54L281.76 5.36L280.91 5.77L280.05 5.77L279.63 5.36L279.63 4.95L280.05 4.54L280.48 4.95L280.05 5.36M281.76 -2.84L281.76 4.54L281.33 5.36L280.91 5.77M280.48 -2.84L282.19 -2.84M286.45 2.49L286.02 2.9L285.6 2.49L286.02 2.08L286.45 2.49L286.45 3.31L286.02 4.13L285.6 4.54M289.95 -1a4.55 4.55 0 1 0 9.1 0a4.55 4.55 0 1 0 -9.1 0M294.05 -1.45h0.9v0.9h-0.9zM301.61 -11.97L302.03 -11.56L301.61 -11.15L301.18 -11.56L301.18 -11.97L301.61 -12.79L302.03 -13.2L303.31 -13.61L305.02 -13.61L306.3 -13.2L306.72 -12.38L306.72 -11.15L306.3 -10.33L305.02 -9.92L303.74 -9.92M305.02 -13.61L305.87 -13.2L306.3 -12.38L306.3 -11.15L305.87 -10.33L305.02 -9.92M305.02 -9.92L305.87 -9.51L306.72 -8.69L307.15 -7.87L307.15 -6.64L306.72 -5.82L306.3 -5.41L305.02 -5L303.31 -5L302.03 -5.41L301.61 -5.82L301.18 -6.64L301.18 -7.05L301.61 -7.46L302.03 -7.05L301.61 -6.64M306.3 -9.1L306.72 -7.87L306.72 -6.64L306.3 -5.82L305.87 -5.41L305.02 -5M316.96 -15.25L309.28 -2.13M322.93 -12.79L322.93 -5M323.35 -13.61L323.35 -5M323.35 -13.61L318.66 -7.46L325.48 -7.46M321.65 -5L324.63 -5M328.64 -7.32L338.79 -7.32M328.64 -3.66L338.79 -3.66M343.84 -10.37L344.47 -9.76L343.84 -9.15L343.2 -9.76L343.2 -10.37L343.84 -11.59L344.47 -12.2L346.38 -12.81L348.91 -12.81L350.82 -12.2L351.45 -10.98L351.45 -9.15L350.82 -7.93L348.91 -7.32L347.01 -7.32M348.91 -12.81L350.18 -12.2L350.82 -10.98L350.82 -9.15L350.18 -7.93L348.91 -7.32M348.91 -7.32L350.18 -6.71L351.45 -5.49L352.08 -4.27L352.08 -2.44L351.45 -1.22L350.82 -0.61L348.91 0L346.38 0L344.47 -0.61L343.84 -1.22L343.2 -2.44L343.2 -3.05L343.84 -3.66L344.47 -3.05L343.84 -2.44M350.82 -6.1L351.45 -4.27L351.45 -2.44L350.82 -1.22L350.18 -0.61L348.91 0M357.16 -1.22L356.53 -0.61L357.16 0L357.79 -0.61L357.16 -1.22M366.04 -12.81L364.14 -12.2L362.87 -10.37L362.24 -7.32L362.24 -5.49L362.87 -2.44L364.14 -0.61L366.04 0L367.31 0L369.21 -0.61L370.48 -2.44L371.12 -5.49L371.12 -7.32L370.48 -10.37L369.21 -12.2L367.31 -12.81L366.04 -12.81M366.04 -12.81L364.77 -12.2L364.14 -11.59L363.5 -10.37L362.87 -7.32L362.87 -5.49L363.5 -2.44L364.14 -1.22L364.77 -0.61L366.04 0M367.31 0L368.58 -0.61L369.21 -1.22L369.85 -2.44L370.48 -5.49L370.48 -7.32L369.85 -10.37L369.21 -11.59L368.58 -12.2L367.31 -12.81" fill="none" stroke="#000" stroke-width="1.5" stroke-linecap="round" stroke-linejoin="round"/>
<line x1="356.6" y1="298.2" x2="452.8" y2="298.2" stroke="#ff2000" stroke-width="1.9"/><line x1="404.8" y1="257.1" x2="404.8" y2="337.5" stroke="#ff2000" stroke-width="1.9"/><circle cx="404.8" cy="298.2" r="7.5" fill="#ff2000"/>
<line x1="341.4" y1="299" x2="501.2" y2="299" stroke="#ff2000" stroke-width="1.9"/><line x1="421.3" y1="252.3" x2="421.3" y2="346.8" stroke="#ff2000" stroke-width="1.9"/><circle cx="421.3" cy="299" r="7.5" fill="#ff2000"/>
<line x1="300.1" y1="331.5" x2="391.7" y2="331.5" stroke="#ff2000" stroke-width="1.9"/><line x1="345.8" y1="287" x2="345.8" y2="375.3" stroke="#ff2000" stroke-width="1.9"/><circle cx="345.8" cy="331.5" r="7.5" fill="#ff2000"/>
<line x1="302.8" y1="283.5" x2="422.8" y2="283.5" stroke="#ff2000" stroke-width="1.9"/><line x1="362.8" y1="241.3" x2="362.8" y2="325.8" stroke="#ff2000" stroke-width="1.9"/><circle cx="362.8" cy="283.5" r="7.5" fill="#ff2000"/>
<line x1="358.8" y1="382.6" x2="440.6" y2="382.6" stroke="#ff2000" stroke-width="1.9"/><line x1="399.8" y1="367.8" x2="399.8" y2="396.6" stroke="#ff2000" stroke-width="1.9"/><polygon points="392.3,389.95 399.8,376.65 407.3,389.95" fill="#ff2000"/>
<line x1="576.1" y1="353.9" x2="614.2" y2="353.9" stroke="#ff2000" stroke-width="1.9"/><line x1="595.2" y1="322.8" x2="595.2" y2="385" stroke="#ff2000" stroke-width="1.9"/><polygon points="587.7,361.55 595.2,348.25 602.7,361.55" fill="#ff2000"/>
<line x1="308.5" y1="251.8" x2="465.9" y2="251.8" stroke="#ff2000" stroke-width="1.9"/><line x1="387.2" y1="228.2" x2="387.2" y2="276" stroke="#ff2000" stroke-width="1.9"/><polygon points="379.7,258.45 387.2,245.15 394.7,258.45" fill="#ff2000"/>
<line x1="215.1" y1="291" x2="354.5" y2="291" stroke="#3a00e6" stroke-width="1.9"/><line x1="284.6" y1="246.5" x2="284.6" y2="335.2" stroke="#3a00e6" stroke-width="1.9"/><circle cx="284.6" cy="291" r="7.5" fill="#3a00e6"/>
<line x1="208.6" y1="292.8" x2="374" y2="292.8" stroke="#3a00e6" stroke-width="1.9"/><line x1="291.6" y1="214.3" x2="291.6" y2="371.6" stroke="#3a00e6" stroke-width="1.9"/><circle cx="291.6" cy="292.8" r="7.5" fill="#3a00e6"/>
<line x1="255.8" y1="312" x2="335.3" y2="312" stroke="#3a00e6" stroke-width="1.9"/><line x1="295.4" y1="272.1" x2="295.4" y2="350" stroke="#3a00e6" stroke-width="1.9"/><circle cx="295.4" cy="312" r="7.5" fill="#3a00e6"/>
<line x1="302.3" y1="209.5" x2="397.2" y2="209.5" stroke="#3a00e6" stroke-width="1.9"/><line x1="349.9" y1="165.1" x2="349.9" y2="254" stroke="#3a00e6" stroke-width="1.9"/><circle cx="349.9" cy="209.5" r="7.5" fill="#3a00e6"/>
<line x1="308.2" y1="293.8" x2="463" y2="293.8" stroke="#3a00e6" stroke-width="1.9"/><line x1="385.7" y1="242.7" x2="385.7" y2="345.2" stroke="#3a00e6" stroke-width="1.9"/><circle cx="385.7" cy="293.8" r="7.5" fill="#3a00e6"/>
<line x1="337" y1="318.6" x2="422.7" y2="318.6" stroke="#3a00e6" stroke-width="1.9"/><line x1="379.8" y1="270.6" x2="379.8" y2="366.2" stroke="#3a00e6" stroke-width="1.9"/><circle cx="379.8" cy="318.6" r="7.5" fill="#3a00e6"/>
<line x1="257.7" y1="352.3" x2="407.7" y2="352.3" stroke="#3a00e6" stroke-width="1.9"/><line x1="333.2" y1="298" x2="333.2" y2="407" stroke="#3a00e6" stroke-width="1.9"/><circle cx="333.2" cy="352.3" r="7.5" fill="#3a00e6"/>
<line x1="272.5" y1="350.9" x2="413.5" y2="350.9" stroke="#3a00e6" stroke-width="1.9"/><line x1="342.6" y1="286.4" x2="342.6" y2="415.7" stroke="#3a00e6" stroke-width="1.9"/><circle cx="342.6" cy="350.9" r="7.5" fill="#3a00e6"/>
<line x1="286.3" y1="406" x2="368.1" y2="406" stroke="#3a00e6" stroke-width="1.9"/><line x1="327.2" y1="384" x2="327.2" y2="428.4" stroke="#3a00e6" stroke-width="1.9"/><polygon points="319.7,412.65 327.2,399.35 334.7,412.65" fill="#3a00e6"/>
<line x1="380.6" y1="401.4" x2="424.6" y2="401.4" stroke="#3a00e6" stroke-width="1.9"/><line x1="402.8" y1="374.5" x2="402.8" y2="429.4" stroke="#3a00e6" stroke-width="1.9"/><polygon points="395.3,409.75 402.8,396.45 410.3,409.75" fill="#3a00e6"/>
<line x1="393.7" y1="352.7" x2="424.7" y2="352.7" stroke="#3a00e6" stroke-width="1.9"/><line x1="409.2" y1="335.5" x2="409.2" y2="367.8" stroke="#3a00e6" stroke-width="1.9"/><polygon points="401.7,359.35 409.2,346.05 416.7,359.35" fill="#3a00e6"/>
<line x1="364.9" y1="468.6" x2="396.9" y2="468.6" stroke="#3a00e6" stroke-width="1.9"/><line x1="380.6" y1="452" x2="380.6" y2="485.1" stroke="#3a00e6" stroke-width="1.9"/><polygon points="373.1,476.4 380.6,463.1 388.1,476.4" fill="#3a00e6"/>
<line x1="240.7" y1="221.6" x2="413.3" y2="221.6" stroke="#ff2000" stroke-width="1.9"/><line x1="326.6" y1="174.3" x2="326.6" y2="269.6" stroke="#ff2000" stroke-width="1.9"/><circle cx="326.6" cy="221.6" r="7.5" fill="#ff2000"/>
<line x1="297.3" y1="257" x2="456.7" y2="257" stroke="#ff2000" stroke-width="1.9"/><line x1="377.1" y1="198.3" x2="377.1" y2="316.4" stroke="#ff2000" stroke-width="1.9"/><circle cx="377.1" cy="257" r="7.5" fill="#ff2000"/>
<line x1="262.5" y1="300.8" x2="397.5" y2="300.8" stroke="#ff2000" stroke-width="1.9"/><line x1="330" y1="257" x2="330" y2="354.2" stroke="#ff2000" stroke-width="1.9"/><circle cx="330" cy="300.8" r="7.5" fill="#ff2000"/>
<line x1="242.1" y1="305.2" x2="311.1" y2="305.2" stroke="#ff2000" stroke-width="1.9"/><line x1="276.6" y1="292" x2="276.6" y2="319.7" stroke="#ff2000" stroke-width="1.9"/><polygon points="269.1,311.85 276.6,298.55 284.1,311.85" fill="#ff2000"/>
<line x1="273.5" y1="116.1" x2="456.7" y2="116.1" stroke="#ff2000" stroke-width="1.9"/><line x1="365.1" y1="72" x2="365.1" y2="159.7" stroke="#ff2000" stroke-width="1.9"/><circle cx="365.1" cy="116.1" r="7.5" fill="#ff2000" stroke="#000" stroke-width="1.7"/>
<line x1="190" y1="255.2" x2="375.4" y2="255.2" stroke="#ff2000" stroke-width="1.9"/><line x1="282.6" y1="211.4" x2="282.6" y2="298" stroke="#ff2000" stroke-width="1.9"/><circle cx="282.6" cy="255.2" r="7.5" fill="#ff2000" stroke="#000" stroke-width="1.7"/>
<line x1="292.8" y1="248.1" x2="336.1" y2="248.1" stroke="#ff2000" stroke-width="1.9"/><line x1="314.6" y1="234.9" x2="314.6" y2="261.9" stroke="#ff2000" stroke-width="1.9"/><polygon points="307.1,254.75 314.6,241.45 322.1,254.75" fill="#ff2000" stroke="#000" stroke-width="1.8" stroke-linejoin="miter"/>
<line x1="352.5" y1="366.4" x2="390" y2="366.4" stroke="#ff2000" stroke-width="1.9"/><line x1="371.7" y1="340.8" x2="371.7" y2="391.9" stroke="#ff2000" stroke-width="1.9"/><polygon points="364.2,373.05 371.7,359.75 379.2,373.05" fill="#ff2000" stroke="#000" stroke-width="1.8" stroke-linejoin="miter"/>
<polygon points="379.7,258.45 387.2,245.15 394.7,258.45" fill="none" stroke="#000" stroke-width="1.8" stroke-linejoin="miter"/>
<polygon points="331.3,210.9 333.88,225.57 344.98,224.75 336.71,232.11 340.81,239.86 331.3,231.96 321.79,239.86 325.89,232.11 317.62,224.75 328.72,225.57" fill="#ff2000" stroke="#000" stroke-width="1.9" stroke-linejoin="round"/>
<polygon points="343,236.2 345.58,250.87 356.68,250.04 348.41,257.41 352.51,265.16 343,257.26 333.49,265.16 337.59,257.41 329.32,250.04 340.42,250.87" fill="#ff2000" stroke="#000" stroke-width="1.9" stroke-linejoin="round"/>
<polygon points="434.4,265.7 436.98,280.37 448.08,279.54 439.81,286.91 443.91,294.66 434.4,286.76 424.89,294.66 428.99,286.91 420.72,279.54 431.82,280.37" fill="#ff2000" stroke="#000" stroke-width="1.9" stroke-linejoin="round"/>
<rect x="563.8" y="446" width="220.8" height="78.8" fill="#fff" stroke="#000" stroke-width="1.2"/>
<circle cx="579.5" cy="469.7" r="7.6" fill="#ff2000"/>
<circle cx="579.5" cy="501.5" r="7.6" fill="#3a00e6"/>
<circle cx="658.5" cy="469.7" r="7.6" fill="#ff2000" stroke="#000" stroke-width="1.7"/>
<polygon points="658.35,485.1 661,500.15 672.38,499.3 663.9,506.85 668.1,514.8 658.35,506.7 648.6,514.8 652.8,506.85 644.32,499.3 655.7,500.15" fill="#ff2000" stroke="#000" stroke-width="1.9" stroke-linejoin="round"/>
<path transform="translate(595.65 477.9)" d="M3.5 -14.07L3.5 0M4.2 -14.07L4.2 0M1.4 -14.07L6.3 -14.07M1.4 0L6.3 0M18.2 -7.37L17.5 -6.7L18.2 -6.03L18.9 -6.7L18.9 -7.37L17.5 -8.71L16.1 -9.38L14 -9.38L11.9 -8.71L10.5 -7.37L9.8 -5.36L9.8 -4.02L10.5 -2.01L11.9 -0.67L14 0L15.4 0L17.5 -0.67L18.9 -2.01M14 -9.38L12.6 -8.71L11.2 -7.37L10.5 -5.36L10.5 -4.02L11.2 -2.01L12.6 -0.67L14 0" fill="none" stroke="#000" stroke-width="2.3" stroke-linecap="round" stroke-linejoin="round"/>
<path transform="translate(595.65 509.25)" d="M3.5 -14.07L3.5 0M4.2 -14.07L4.2 0M1.4 -14.07L6.3 -14.07M1.4 0L6.3 0M11.2 -14.07L11.2 0M11.9 -14.07L11.9 0M11.9 -7.37L13.3 -8.71L14.7 -9.38L16.1 -9.38L18.2 -8.71L19.6 -7.37L20.3 -5.36L20.3 -4.02L19.6 -2.01L18.2 -0.67L16.1 0L14.7 0L13.3 -0.67L11.9 -2.01M16.1 -9.38L17.5 -8.71L18.9 -7.37L19.6 -5.36L19.6 -4.02L18.9 -2.01L17.5 -0.67L16.1 0M9.1 -14.07L11.9 -14.07" fill="none" stroke="#000" stroke-width="2.3" stroke-linecap="round" stroke-linejoin="round"/>
<path transform="translate(674.25 477.9)" d="M3.5 -14.07L3.5 0M4.2 -14.07L4.2 0M1.4 -14.07L6.3 -14.07M1.4 0L6.3 0M18.2 -7.37L17.5 -6.7L18.2 -6.03L18.9 -6.7L18.9 -7.37L17.5 -8.71L16.1 -9.38L14 -9.38L11.9 -8.71L10.5 -7.37L9.8 -5.36L9.8 -4.02L10.5 -2.01L11.9 -0.67L14 0L15.4 0L17.5 -0.67L18.9 -2.01M14 -9.38L12.6 -8.71L11.2 -7.37L10.5 -5.36L10.5 -4.02L11.2 -2.01L12.6 -0.67L14 0M24.5 -6.03L35.7 -6.03M43.4 -14.07L43.4 0M44.1 -14.07L44.1 0M41.3 -14.07L49.7 -14.07L51.8 -13.4L52.5 -12.73L53.2 -11.39L53.2 -10.05L52.5 -8.71L51.8 -8.04L49.7 -7.37M49.7 -14.07L51.1 -13.4L51.8 -12.73L52.5 -11.39L52.5 -10.05L51.8 -8.71L51.1 -8.04L49.7 -7.37M44.1 -7.37L49.7 -7.37L51.8 -6.7L52.5 -6.03L53.2 -4.69L53.2 -2.68L52.5 -1.34L51.8 -0.67L49.7 0L41.3 0M49.7 -7.37L51.1 -6.7L51.8 -6.03L52.5 -4.69L52.5 -2.68L51.8 -1.34L51.1 -0.67L49.7 0M58.8 -14.07L58.8 0M59.5 -14.07L59.5 0M56.7 -14.07L61.6 -14.07M56.7 0L67.2 0L67.2 -4.02L66.5 0" fill="none" stroke="#000" stroke-width="2.3" stroke-linecap="round" stroke-linejoin="round"/>
<path transform="translate(674.25 509.25)" d="M3.5 -14.07L3.5 0M4.2 -14.07L4.2 0M8.4 -10.05L8.4 -4.69M1.4 -14.07L12.6 -14.07L12.6 -10.05L11.9 -14.07M4.2 -7.37L8.4 -7.37M1.4 0L12.6 0L12.6 -4.02L11.9 0M18.2 -9.38L18.2 0M18.9 -9.38L18.9 0M18.9 -7.37L20.3 -8.71L22.4 -9.38L23.8 -9.38L25.9 -8.71L26.6 -7.37L26.6 0M23.8 -9.38L25.2 -8.71L25.9 -7.37L25.9 0M16.1 -9.38L18.9 -9.38M16.1 0L21 0M23.8 0L28.7 0M35.7 -9.38L34.3 -8.71L33.6 -8.04L32.9 -6.7L32.9 -5.36L33.6 -4.02L34.3 -3.35L35.7 -2.68L37.1 -2.68L38.5 -3.35L39.2 -4.02L39.9 -5.36L39.9 -6.7L39.2 -8.04L38.5 -8.71L37.1 -9.38L35.7 -9.38M34.3 -8.71L33.6 -7.37L33.6 -4.69L34.3 -3.35M38.5 -3.35L39.2 -4.69L39.2 -7.37L38.5 -8.71M39.2 -8.04L39.9 -8.71L41.3 -9.38L41.3 -8.71L39.9 -8.71M33.6 -4.02L32.9 -3.35L32.2 -2.01L32.2 -1.34L32.9 0L35 0.67L38.5 0.67L40.6 1.34L41.3 2.01M32.2 -1.34L32.9 -0.67L35 0L38.5 0L40.6 0.67L41.3 2.01L41.3 2.68L40.6 4.02L38.5 4.69L34.3 4.69L32.2 4.02L31.5 2.68L31.5 2.01L32.2 0.67L34.3 0M46.9 -14.07L46.2 -13.4L46.9 -12.73L47.6 -13.4L46.9 -14.07M46.9 -9.38L46.9 0M47.6 -9.38L47.6 0M44.8 -9.38L47.6 -9.38M44.8 0L49.7 0M54.6 -9.38L54.6 0M55.3 -9.38L55.3 0M55.3 -7.37L56.7 -8.71L58.8 -9.38L60.2 -9.38L62.3 -8.71L63 -7.37L63 0M60.2 -9.38L61.6 -8.71L62.3 -7.37L62.3 0M52.5 -9.38L55.3 -9.38M52.5 0L57.4 0M60.2 0L65.1 0M69.3 -5.36L77.7 -5.36L77.7 -6.7L77 -8.04L76.3 -8.71L74.9 -9.38L72.8 -9.38L70.7 -8.71L69.3 -7.37L68.6 -5.36L68.6 -4.02L69.3 -2.01L70.7 -0.67L72.8 0L74.2 0L76.3 -0.67L77.7 -2.01M77 -5.36L77 -7.37L76.3 -8.71M72.8 -9.38L71.4 -8.71L70 -7.37L69.3 -5.36L69.3 -4.02L70 -2.01L71.4 -0.67L72.8 0" fill="none" stroke="#000" stroke-width="2.3" stroke-linecap="round" stroke-linejoin="round"/>
<rect x="154" y="48.3" width="630.6" height="476.5" fill="none" stroke="#000" stroke-width="2.4"/>
<path d="M153.9 524.8v-9.4M153.9 48.3v9.4M185.43 524.8v-4.6M185.43 48.3v4.6M216.96 524.8v-4.6M216.96 48.3v4.6M248.49 524.8v-4.6M248.49 48.3v4.6M280.02 524.8v-4.6M280.02 48.3v4.6M311.55 524.8v-9.4M311.55 48.3v9.4M343.08 524.8v-4.6M343.08 48.3v4.6M374.61 524.8v-4.6M374.61 48.3v4.6M406.14 524.8v-4.6M406.14 48.3v4.6M437.67 524.8v-4.6M437.67 48.3v4.6M469.2 524.8v-9.4M469.2 48.3v9.4M500.73 524.8v-4.6M500.73 48.3v4.6M532.26 524.8v-4.6M532.26 48.3v4.6M563.79 524.8v-4.6M563.79 48.3v4.6M595.32 524.8v-4.6M595.32 48.3v4.6M626.85 524.8v-9.4M626.85 48.3v9.4M658.38 524.8v-4.6M658.38 48.3v4.6M689.91 524.8v-4.6M689.91 48.3v4.6M721.44 524.8v-4.6M721.44 48.3v4.6M752.97 524.8v-4.6M752.97 48.3v4.6M784.5 524.8v-9.4M784.5 48.3v9.4M154 48.05h5.8M784.6 48.05h-5.8M154 56h5.8M784.6 56h-5.8M154 63.95h5.8M784.6 63.95h-5.8M154 71.9h5.8M784.6 71.9h-5.8M154 79.85h5.8M784.6 79.85h-5.8M154 87.8h12.5M784.6 87.8h-12.5M154 95.75h5.8M784.6 95.75h-5.8M154 103.7h5.8M784.6 103.7h-5.8M154 111.65h5.8M784.6 111.65h-5.8M154 119.6h5.8M784.6 119.6h-5.8M154 127.55h5.8M784.6 127.55h-5.8M154 135.5h5.8M784.6 135.5h-5.8M154 143.45h5.8M784.6 143.45h-5.8M154 151.4h5.8M784.6 151.4h-5.8M154 159.35h5.8M784.6 159.35h-5.8M154 167.3h12.5M784.6 167.3h-12.5M154 175.25h5.8M784.6 175.25h-5.8M154 183.2h5.8M784.6 183.2h-5.8M154 191.15h5.8M784.6 191.15h-5.8M154 199.1h5.8M784.6 199.1h-5.8M154 207.05h5.8M784.6 207.05h-5.8M154 215h5.8M784.6 215h-5.8M154 222.95h5.8M784.6 222.95h-5.8M154 230.9h5.8M784.6 230.9h-5.8M154 238.85h5.8M784.6 238.85h-5.8M154 246.8h12.5M784.6 246.8h-12.5M154 254.75h5.8M784.6 254.75h-5.8M154 262.7h5.8M784.6 262.7h-5.8M154 270.65h5.8M784.6 270.65h-5.8M154 278.6h5.8M784.6 278.6h-5.8M154 286.55h5.8M784.6 286.55h-5.8M154 294.5h5.8M784.6 294.5h-5.8M154 302.45h5.8M784.6 302.45h-5.8M154 310.4h5.8M784.6 310.4h-5.8M154 318.35h5.8M784.6 318.35h-5.8M154 326.3h12.5M784.6 326.3h-12.5M154 334.25h5.8M784.6 334.25h-5.8M154 342.2h5.8M784.6 342.2h-5.8M154 350.15h5.8M784.6 350.15h-5.8M154 358.1h5.8M784.6 358.1h-5.8M154 366.05h5.8M784.6 366.05h-5.8M154 374h5.8M784.6 374h-5.8M154 381.95h5.8M784.6 381.95h-5.8M154 389.9h5.8M784.6 389.9h-5.8M154 397.85h5.8M784.6 397.85h-5.8M154 405.8h12.5M784.6 405.8h-12.5M154 413.75h5.8M784.6 413.75h-5.8M154 421.7h5.8M784.6 421.7h-5.8M154 429.65h5.8M784.6 429.65h-5.8M154 437.6h5.8M784.6 437.6h-5.8M154 445.55h5.8M784.6 445.55h-5.8M154 453.5h5.8M784.6 453.5h-5.8M154 461.45h5.8M784.6 461.45h-5.8M154 469.4h5.8M784.6 469.4h-5.8M154 477.35h5.8M784.6 477.35h-5.8M154 485.3h12.5M784.6 485.3h-12.5M154 493.25h5.8M784.6 493.25h-5.8M154 501.2h5.8M784.6 501.2h-5.8M154 509.15h5.8M784.6 509.15h-5.8M154 517.1h5.8M784.6 517.1h-5.8M154 525.05h5.8M784.6 525.05h-5.8" stroke="#000" stroke-width="2" fill="none"/>
<path transform="translate(153.1 561.7) translate(-21.24 0)" d="M7.65 -17.49L5.1 -16.66L3.4 -14.16L2.55 -10L2.55 -7.5L3.4 -3.33L5.1 -0.83L7.65 0L9.35 0L11.9 -0.83L13.59 -3.33L14.44 -7.5L14.44 -10L13.59 -14.16L11.9 -16.66L9.35 -17.49L7.65 -17.49M7.65 -17.49L5.95 -16.66L5.1 -15.83L4.25 -14.16L3.4 -10L3.4 -7.5L4.25 -3.33L5.1 -1.67L5.95 -0.83L7.65 0M9.35 0L11.05 -0.83L11.9 -1.67L12.74 -3.33L13.59 -7.5L13.59 -10L12.74 -14.16L11.9 -15.83L11.05 -16.66L9.35 -17.49M21.24 -1.67L20.39 -0.83L21.24 0L22.09 -0.83L21.24 -1.67M33.14 -17.49L30.59 -16.66L28.89 -14.16L28.04 -10L28.04 -7.5L28.89 -3.33L30.59 -0.83L33.14 0L34.84 0L37.39 -0.83L39.08 -3.33L39.93 -7.5L39.93 -10L39.08 -14.16L37.39 -16.66L34.84 -17.49L33.14 -17.49M33.14 -17.49L31.44 -16.66L30.59 -15.83L29.74 -14.16L28.89 -10L28.89 -7.5L29.74 -3.33L30.59 -1.67L31.44 -0.83L33.14 0M34.84 0L36.54 -0.83L37.39 -1.67L38.23 -3.33L39.08 -7.5L39.08 -10L38.23 -14.16L37.39 -15.83L36.54 -16.66L34.84 -17.49" fill="none" stroke="#000" stroke-width="2" stroke-linecap="round" stroke-linejoin="round"/>
<path transform="translate(310.75 561.7) translate(-21.24 0)" d="M7.65 -17.49L5.1 -16.66L3.4 -14.16L2.55 -10L2.55 -7.5L3.4 -3.33L5.1 -0.83L7.65 0L9.35 0L11.9 -0.83L13.59 -3.33L14.44 -7.5L14.44 -10L13.59 -14.16L11.9 -16.66L9.35 -17.49L7.65 -17.49M7.65 -17.49L5.95 -16.66L5.1 -15.83L4.25 -14.16L3.4 -10L3.4 -7.5L4.25 -3.33L5.1 -1.67L5.95 -0.83L7.65 0M9.35 0L11.05 -0.83L11.9 -1.67L12.74 -3.33L13.59 -7.5L13.59 -10L12.74 -14.16L11.9 -15.83L11.05 -16.66L9.35 -17.49M21.24 -1.67L20.39 -0.83L21.24 0L22.09 -0.83L21.24 -1.67M29.74 -17.49L28.04 -9.16M28.04 -9.16L29.74 -10.83L32.29 -11.66L34.84 -11.66L37.39 -10.83L39.08 -9.16L39.93 -6.66L39.93 -5L39.08 -2.5L37.39 -0.83L34.84 0L32.29 0L29.74 -0.83L28.89 -1.67L28.04 -3.33L28.04 -4.17L28.89 -5L29.74 -4.17L28.89 -3.33M34.84 -11.66L36.54 -10.83L38.23 -9.16L39.08 -6.66L39.08 -5L38.23 -2.5L36.54 -0.83L34.84 0M29.74 -17.49L38.23 -17.49M29.74 -16.66L33.99 -16.66L38.23 -17.49" fill="none" stroke="#000" stroke-width="2" stroke-linecap="round" stroke-linejoin="round"/>
<path transform="translate(468.4 561.7) translate(-21.24 0)" d="M5.1 -14.16L6.8 -14.99L9.35 -17.49L9.35 0M8.5 -16.66L8.5 0M5.95 0L11.9 0M21.24 -1.67L20.39 -0.83L21.24 0L22.09 -0.83L21.24 -1.67M33.14 -17.49L30.59 -16.66L28.89 -14.16L28.04 -10L28.04 -7.5L28.89 -3.33L30.59 -0.83L33.14 0L34.84 0L37.39 -0.83L39.08 -3.33L39.93 -7.5L39.93 -10L39.08 -14.16L37.39 -16.66L34.84 -17.49L33.14 -17.49M33.14 -17.49L31.44 -16.66L30.59 -15.83L29.74 -14.16L28.89 -10L28.89 -7.5L29.74 -3.33L30.59 -1.67L31.44 -0.83L33.14 0M34.84 0L36.54 -0.83L37.39 -1.67L38.23 -3.33L39.08 -7.5L39.08 -10L38.23 -14.16L37.39 -15.83L36.54 -16.66L34.84 -17.49" fill="none" stroke="#000" stroke-width="2" stroke-linecap="round" stroke-linejoin="round"/>
<path transform="translate(626.05 561.7) translate(-21.24 0)" d="M5.1 -14.16L6.8 -14.99L9.35 -17.49L9.35 0M8.5 -16.66L8.5 0M5.95 0L11.9 0M21.24 -1.67L20.39 -0.83L21.24 0L22.09 -0.83L21.24 -1.67M29.74 -17.49L28.04 -9.16M28.04 -9.16L29.74 -10.83L32.29 -11.66L34.84 -11.66L37.39 -10.83L39.08 -9.16L39.93 -6.66L39.93 -5L39.08 -2.5L37.39 -0.83L34.84 0L32.29 0L29.74 -0.83L28.89 -1.67L28.04 -3.33L28.04 -4.17L28.89 -5L29.74 -4.17L28.89 -3.33M34.84 -11.66L36.54 -10.83L38.23 -9.16L39.08 -6.66L39.08 -5L38.23 -2.5L36.54 -0.83L34.84 0M29.74 -17.49L38.23 -17.49M29.74 -16.66L33.99 -16.66L38.23 -17.49" fill="none" stroke="#000" stroke-width="2" stroke-linecap="round" stroke-linejoin="round"/>
<path transform="translate(783.7 561.7) translate(-21.24 0)" d="M3.4 -14.16L4.25 -13.33L3.4 -12.49L2.55 -13.33L2.55 -14.16L3.4 -15.83L4.25 -16.66L6.8 -17.49L10.2 -17.49L12.74 -16.66L13.59 -15.83L14.44 -14.16L14.44 -12.49L13.59 -10.83L11.05 -9.16L6.8 -7.5L5.1 -6.66L3.4 -5L2.55 -2.5L2.55 0M10.2 -17.49L11.9 -16.66L12.74 -15.83L13.59 -14.16L13.59 -12.49L12.74 -10.83L10.2 -9.16L6.8 -7.5M2.55 -1.67L3.4 -2.5L5.1 -2.5L9.35 -0.83L11.9 -0.83L13.59 -1.67L14.44 -2.5M5.1 -2.5L9.35 0L12.74 0L13.59 -0.83L14.44 -2.5L14.44 -4.17M21.24 -1.67L20.39 -0.83L21.24 0L22.09 -0.83L21.24 -1.67M33.14 -17.49L30.59 -16.66L28.89 -14.16L28.04 -10L28.04 -7.5L28.89 -3.33L30.59 -0.83L33.14 0L34.84 0L37.39 -0.83L39.08 -3.33L39.93 -7.5L39.93 -10L39.08 -14.16L37.39 -16.66L34.84 -17.49L33.14 -17.49M33.14 -17.49L31.44 -16.66L30.59 -15.83L29.74 -14.16L28.89 -10L28.89 -7.5L29.74 -3.33L30.59 -1.67L31.44 -0.83L33.14 0M34.84 0L36.54 -0.83L37.39 -1.67L38.23 -3.33L39.08 -7.5L39.08 -10L38.23 -14.16L37.39 -15.83L36.54 -16.66L34.84 -17.49" fill="none" stroke="#000" stroke-width="2" stroke-linecap="round" stroke-linejoin="round"/>
<path transform="translate(146.6 98) translate(-54.38 0)" d="M3.82 -7.5L16.57 -7.5M23.79 -14.16L24.64 -13.33L23.79 -12.49L22.94 -13.33L22.94 -14.16L23.79 -15.83L24.64 -16.66L27.19 -17.49L30.59 -17.49L33.14 -16.66L33.99 -15.83L34.84 -14.16L34.84 -12.49L33.99 -10.83L31.44 -9.16L27.19 -7.5L25.49 -6.66L23.79 -5L22.94 -2.5L22.94 0M30.59 -17.49L32.29 -16.66L33.14 -15.83L33.99 -14.16L33.99 -12.49L33.14 -10.83L30.59 -9.16L27.19 -7.5M22.94 -1.67L23.79 -2.5L25.49 -2.5L29.74 -0.83L32.29 -0.83L33.99 -1.67L34.84 -2.5M25.49 -2.5L29.74 0L33.14 0L33.99 -0.83L34.84 -2.5L34.84 -4.17M42.48 -14.16L44.18 -14.99L46.73 -17.49L46.73 0M45.88 -16.66L45.88 0M43.33 0L49.28 0" fill="none" stroke="#000" stroke-width="2" stroke-linecap="round" stroke-linejoin="round"/>
<path transform="translate(146.6 177.5) translate(-54.38 0)" d="M3.82 -7.5L16.57 -7.5M23.79 -14.16L24.64 -13.33L23.79 -12.49L22.94 -13.33L22.94 -14.16L23.79 -15.83L24.64 -16.66L27.19 -17.49L30.59 -17.49L33.14 -16.66L33.99 -15.83L34.84 -14.16L34.84 -12.49L33.99 -10.83L31.44 -9.16L27.19 -7.5L25.49 -6.66L23.79 -5L22.94 -2.5L22.94 0M30.59 -17.49L32.29 -16.66L33.14 -15.83L33.99 -14.16L33.99 -12.49L33.14 -10.83L30.59 -9.16L27.19 -7.5M22.94 -1.67L23.79 -2.5L25.49 -2.5L29.74 -0.83L32.29 -0.83L33.99 -1.67L34.84 -2.5M25.49 -2.5L29.74 0L33.14 0L33.99 -0.83L34.84 -2.5L34.84 -4.17M45.03 -17.49L42.48 -16.66L40.78 -14.16L39.93 -10L39.93 -7.5L40.78 -3.33L42.48 -0.83L45.03 0L46.73 0L49.28 -0.83L50.98 -3.33L51.83 -7.5L51.83 -10L50.98 -14.16L49.28 -16.66L46.73 -17.49L45.03 -17.49M45.03 -17.49L43.33 -16.66L42.48 -15.83L41.63 -14.16L40.78 -10L40.78 -7.5L41.63 -3.33L42.48 -1.67L43.33 -0.83L45.03 0M46.73 0L48.43 -0.83L49.28 -1.67L50.13 -3.33L50.98 -7.5L50.98 -10L50.13 -14.16L49.28 -15.83L48.43 -16.66L46.73 -17.49" fill="none" stroke="#000" stroke-width="2" stroke-linecap="round" stroke-linejoin="round"/>
<path transform="translate(146.6 257) translate(-54.38 0)" d="M3.82 -7.5L16.57 -7.5M25.49 -14.16L27.19 -14.99L29.74 -17.49L29.74 0M28.89 -16.66L28.89 0M26.34 0L32.29 0M50.98 -11.66L50.13 -9.16L48.43 -7.5L45.88 -6.66L45.03 -6.66L42.48 -7.5L40.78 -9.16L39.93 -11.66L39.93 -12.49L40.78 -14.99L42.48 -16.66L45.03 -17.49L46.73 -17.49L49.28 -16.66L50.98 -14.99L51.83 -12.49L51.83 -7.5L50.98 -4.17L50.13 -2.5L48.43 -0.83L45.88 0L43.33 0L41.63 -0.83L40.78 -2.5L40.78 -3.33L41.63 -4.17L42.48 -3.33L41.63 -2.5M45.03 -6.66L43.33 -7.5L41.63 -9.16L40.78 -11.66L40.78 -12.49L41.63 -14.99L43.33 -16.66L45.03 -17.49M46.73 -17.49L48.43 -16.66L50.13 -14.99L50.98 -12.49L50.98 -7.5L50.13 -4.17L49.28 -2.5L47.58 -0.83L45.88 0" fill="none" stroke="#000" stroke-width="2" stroke-linecap="round" stroke-linejoin="round"/>
<path transform="translate(146.6 336.5) translate(-54.38 0)" d="M3.82 -7.5L16.57 -7.5M25.49 -14.16L27.19 -14.99L29.74 -17.49L29.74 0M28.89 -16.66L28.89 0M26.34 0L32.29 0M44.18 -17.49L41.63 -16.66L40.78 -14.99L40.78 -12.49L41.63 -10.83L44.18 -10L47.58 -10L50.13 -10.83L50.98 -12.49L50.98 -14.99L50.13 -16.66L47.58 -17.49L44.18 -17.49M44.18 -17.49L42.48 -16.66L41.63 -14.99L41.63 -12.49L42.48 -10.83L44.18 -10M47.58 -10L49.28 -10.83L50.13 -12.49L50.13 -14.99L49.28 -16.66L47.58 -17.49M44.18 -10L41.63 -9.16L40.78 -8.33L39.93 -6.66L39.93 -3.33L40.78 -1.67L41.63 -0.83L44.18 0L47.58 0L50.13 -0.83L50.98 -1.67L51.83 -3.33L51.83 -6.66L50.98 -8.33L50.13 -9.16L47.58 -10M44.18 -10L42.48 -9.16L41.63 -8.33L40.78 -6.66L40.78 -3.33L41.63 -1.67L42.48 -0.83L44.18 0M47.58 0L49.28 -0.83L50.13 -1.67L50.98 -3.33L50.98 -6.66L50.13 -8.33L49.28 -9.16L47.58 -10" fill="none" stroke="#000" stroke-width="2" stroke-linecap="round" stroke-linejoin="round"/>
<path transform="translate(146.6 416) translate(-54.38 0)" d="M3.82 -7.5L16.57 -7.5M25.49 -14.16L27.19 -14.99L29.74 -17.49L29.74 0M28.89 -16.66L28.89 0M26.34 0L32.29 0M39.93 -17.49L39.93 -12.49M39.93 -14.16L40.78 -15.83L42.48 -17.49L44.18 -17.49L48.43 -14.99L50.13 -14.99L50.98 -15.83L51.83 -17.49M40.78 -15.83L42.48 -16.66L44.18 -16.66L48.43 -14.99M51.83 -17.49L51.83 -14.99L50.98 -12.49L47.58 -8.33L46.73 -6.66L45.88 -4.17L45.88 0M50.98 -12.49L46.73 -8.33L45.88 -6.66L45.03 -4.17L45.03 0" fill="none" stroke="#000" stroke-width="2" stroke-linecap="round" stroke-linejoin="round"/>
<path transform="translate(146.6 495.5) translate(-54.38 0)" d="M3.82 -7.5L16.57 -7.5M25.49 -14.16L27.19 -14.99L29.74 -17.49L29.74 0M28.89 -16.66L28.89 0M26.34 0L32.29 0M50.13 -14.99L49.28 -14.16L50.13 -13.33L50.98 -14.16L50.98 -14.99L50.13 -16.66L48.43 -17.49L45.88 -17.49L43.33 -16.66L41.63 -14.99L40.78 -13.33L39.93 -10L39.93 -5L40.78 -2.5L42.48 -0.83L45.03 0L46.73 0L49.28 -0.83L50.98 -2.5L51.83 -5L51.83 -5.83L50.98 -8.33L49.28 -10L46.73 -10.83L45.88 -10.83L43.33 -10L41.63 -8.33L40.78 -5.83M45.88 -17.49L44.18 -16.66L42.48 -14.99L41.63 -13.33L40.78 -10L40.78 -5L41.63 -2.5L43.33 -0.83L45.03 0M46.73 0L48.43 -0.83L50.13 -2.5L50.98 -5L50.98 -5.83L50.13 -8.33L48.43 -10L46.73 -10.83" fill="none" stroke="#000" stroke-width="2" stroke-linecap="round" stroke-linejoin="round"/>
<path transform="translate(0 593.3)" d="M377.5 -15.75L371.18 0M377.5 -15.75L383.82 0M377.5 -13.5L383.03 0M371.97 -0.75L383.03 -0.75M371.18 0L383.82 0M389.75 -10.5L389.75 0M390.54 -10.5L390.54 0M390.54 -8.25L392.12 -9.75L394.49 -10.5L396.07 -10.5L398.44 -9.75L399.23 -8.25L399.23 0M396.07 -10.5L397.65 -9.75L398.44 -8.25L398.44 0M399.23 -8.25L400.81 -9.75L403.18 -10.5L404.76 -10.5L407.13 -9.75L407.92 -8.25L407.92 0M404.76 -10.5L406.34 -9.75L407.13 -8.25L407.13 0M387.38 -10.5L390.54 -10.5M387.38 0L392.91 0M396.07 0L401.6 0M404.76 0L410.29 0M416.58 -4.6L417.64 -5.1L419.23 -6.6L419.23 3.9M418.7 -6.1L418.7 3.9M417.11 3.9L420.82 3.9M426.65 -6.6L425.59 -1.6M425.59 -1.6L426.65 -2.6L428.24 -3.1L429.83 -3.1L431.42 -2.6L432.48 -1.6L433.01 -0.1L433.01 0.9L432.48 2.4L431.42 3.4L429.83 3.9L428.24 3.9L426.65 3.4L426.12 2.9L425.59 1.9L425.59 1.4L426.12 0.9L426.65 1.4L426.12 1.9M429.83 -3.1L430.89 -2.6L431.95 -1.6L432.48 -0.1L432.48 0.9L431.95 2.4L430.89 3.4L429.83 3.9M426.65 -6.6L431.95 -6.6M426.65 -6.1L429.3 -6.1L431.95 -6.6M456.29 -18.75L454.71 -17.25L453.13 -15L451.55 -12L450.76 -8.25L450.76 -5.25L451.55 -1.5L453.13 1.5L454.71 3.75L456.29 5.25M454.71 -17.25L453.13 -14.25L452.34 -12L451.55 -8.25L451.55 -5.25L452.34 -1.5L453.13 0.75L454.71 3.75M463.35 -15.75L463.35 0M464.14 -15.75L464.14 0M460.98 -15.75L470.46 -15.75L472.83 -15L473.62 -14.25L474.41 -12.75L474.41 -11.25L473.62 -9.75L472.83 -9L470.46 -8.25L464.14 -8.25M470.46 -15.75L472.04 -15L472.83 -14.25L473.62 -12.75L473.62 -11.25L472.83 -9.75L472.04 -9L470.46 -8.25M460.98 0L466.51 0M468.09 -8.25L469.67 -7.5L470.46 -6.75L472.83 -1.5L473.62 -0.75L474.41 -0.75L475.2 -1.5M469.67 -7.5L470.46 -6L472.04 -0.75L472.83 0L474.41 0L475.2 -1.5L475.2 -2.25M480.73 -10.5L479.94 -9.75L480.73 -9L481.52 -9.75L480.73 -10.5M480.73 0L479.94 -0.75L480.73 -1.5L481.52 -0.75L481.52 0.75L480.73 2.25L479.94 3M502.75 -10.5L502.75 0M503.54 -10.5L503.54 0M503.54 -8.25L505.12 -9.75L507.49 -10.5L509.07 -10.5L511.44 -9.75L512.23 -8.25L512.23 0M509.07 -10.5L510.65 -9.75L511.44 -8.25L511.44 0M512.23 -8.25L513.81 -9.75L516.18 -10.5L517.76 -10.5L520.13 -9.75L520.92 -8.25L520.92 0M517.76 -10.5L519.34 -9.75L520.13 -8.25L520.13 0M500.38 -10.5L503.54 -10.5M500.38 0L505.91 0M509.07 0L514.6 0M517.76 0L523.29 0M527.35 -9L527.35 -8.25L526.56 -8.25L526.56 -9L527.35 -9.75L528.93 -10.5L532.09 -10.5L533.67 -9.75L534.46 -9L535.25 -7.5L535.25 -2.25L536.04 -0.75L536.83 0M534.46 -9L534.46 -2.25L535.25 -0.75L536.83 0L537.62 0M534.46 -7.5L533.67 -6.75L528.93 -6L526.56 -5.25L525.77 -3.75L525.77 -2.25L526.56 -0.75L528.93 0L531.3 0L532.88 -0.75L534.46 -2.25M528.93 -6L527.35 -5.25L526.56 -3.75L526.56 -2.25L527.35 -0.75L528.93 0M546.72 -10.5L545.14 -9.75L544.35 -9L543.56 -7.5L543.56 -6L544.35 -4.5L545.14 -3.75L546.72 -3L548.3 -3L549.88 -3.75L550.67 -4.5L551.46 -6L551.46 -7.5L550.67 -9L549.88 -9.75L548.3 -10.5L546.72 -10.5M545.14 -9.75L544.35 -8.25L544.35 -5.25L545.14 -3.75M549.88 -3.75L550.67 -5.25L550.67 -8.25L549.88 -9.75M550.67 -9L551.46 -9.75L553.04 -10.5L553.04 -9.75L551.46 -9.75M544.35 -4.5L543.56 -3.75L542.77 -2.25L542.77 -1.5L543.56 0L545.93 0.75L549.88 0.75L552.25 1.5L553.04 2.25M542.77 -1.5L543.56 -0.75L545.93 0L549.88 0L552.25 0.75L553.04 2.25L553.04 3L552.25 4.5L549.88 5.25L545.14 5.25L542.77 4.5L541.98 3L541.98 2.25L542.77 0.75L545.14 0M558.97 -18.75L560.55 -17.25L562.13 -15L563.71 -12L564.5 -8.25L564.5 -5.25L563.71 -1.5L562.13 1.5L560.55 3.75L558.97 5.25M560.55 -17.25L562.13 -14.25L562.92 -12L563.71 -8.25L563.71 -5.25L562.92 -1.5L562.13 0.75L560.55 3.75" fill="none" stroke="#000" stroke-width="2.4" stroke-linecap="round" stroke-linejoin="round"/>
<path transform="translate(67.7 349.6) rotate(-90)" d="M3.57 -15.75L3.57 0M4.36 -15.75L9.1 -2.25M3.57 -15.75L9.1 0M14.63 -15.75L9.1 0M14.63 -15.75L14.63 0M15.42 -15.75L15.42 0M1.2 -15.75L4.36 -15.75M14.63 -15.75L17.79 -15.75M1.2 0L5.94 0M12.26 0L17.79 0M21.15 -4.15L21.15 5.3M21.6 -4.15L21.6 5.3M19.8 -4.15L25.2 -4.15L26.55 -3.7L27 -3.25L27.45 -2.35L27.45 -1.45L27 -0.55L26.55 -0.1L25.2 0.35L21.6 0.35M25.2 -4.15L26.1 -3.7L26.55 -3.25L27 -2.35L27 -1.45L26.55 -0.55L26.1 -0.1L25.2 0.35M19.8 5.3L22.95 5.3M23.85 0.35L24.75 0.8L25.2 1.25L26.55 4.4L27 4.85L27.45 4.85L27.9 4.4M24.75 0.8L25.2 1.7L26.1 4.85L26.55 5.3L27.45 5.3L27.9 4.4L27.9 3.95M50.19 -18.75L48.61 -17.25L47.03 -15L45.45 -12L44.66 -8.25L44.66 -5.25L45.45 -1.5L47.03 1.5L48.61 3.75L50.19 5.25M48.61 -17.25L47.03 -14.25L46.24 -12L45.45 -8.25L45.45 -5.25L46.24 -1.5L47.03 0.75L48.61 3.75M58.95 -10.5L58.95 0M59.74 -10.5L59.74 0M59.74 -8.25L61.32 -9.75L63.69 -10.5L65.27 -10.5L67.64 -9.75L68.43 -8.25L68.43 0M65.27 -10.5L66.85 -9.75L67.64 -8.25L67.64 0M68.43 -8.25L70.01 -9.75L72.38 -10.5L73.96 -10.5L76.33 -9.75L77.12 -8.25L77.12 0M73.96 -10.5L75.54 -9.75L76.33 -8.25L76.33 0M56.58 -10.5L59.74 -10.5M56.58 0L62.11 0M65.27 0L70.8 0M73.96 0L79.49 0M83.35 -9L83.35 -8.25L82.56 -8.25L82.56 -9L83.35 -9.75L84.93 -10.5L88.09 -10.5L89.67 -9.75L90.46 -9L91.25 -7.5L91.25 -2.25L92.04 -0.75L92.83 0M90.46 -9L90.46 -2.25L91.25 -0.75L92.83 0L93.62 0M90.46 -7.5L89.67 -6.75L84.93 -6L82.56 -5.25L81.77 -3.75L81.77 -2.25L82.56 -0.75L84.93 0L87.3 0L88.88 -0.75L90.46 -2.25M84.93 -6L83.35 -5.25L82.56 -3.75L82.56 -2.25L83.35 -0.75L84.93 0M102.22 -10.5L100.64 -9.75L99.85 -9L99.06 -7.5L99.06 -6L99.85 -4.5L100.64 -3.75L102.22 -3L103.8 -3L105.38 -3.75L106.17 -4.5L106.96 -6L106.96 -7.5L106.17 -9L105.38 -9.75L103.8 -10.5L102.22 -10.5M100.64 -9.75L99.85 -8.25L99.85 -5.25L100.64 -3.75M105.38 -3.75L106.17 -5.25L106.17 -8.25L105.38 -9.75M106.17 -9L106.96 -9.75L108.54 -10.5L108.54 -9.75L106.96 -9.75M99.85 -4.5L99.06 -3.75L98.27 -2.25L98.27 -1.5L99.06 0L101.43 0.75L105.38 0.75L107.75 1.5L108.54 2.25M98.27 -1.5L99.06 -0.75L101.43 0L105.38 0L107.75 0.75L108.54 2.25L108.54 3L107.75 4.5L105.38 5.25L100.64 5.25L98.27 4.5L97.48 3L97.48 2.25L98.27 0.75L100.64 0M115.07 -18.75L116.65 -17.25L118.23 -15L119.81 -12L120.6 -8.25L120.6 -5.25L119.81 -1.5L118.23 1.5L116.65 3.75L115.07 5.25M116.65 -17.25L118.23 -14.25L119.02 -12L119.81 -8.25L119.81 -5.25L119.02 -1.5L118.23 0.75L116.65 3.75" fill="none" stroke="#000" stroke-width="2.4" stroke-linecap="round" stroke-linejoin="round"/>
</svg>
</body></html>
